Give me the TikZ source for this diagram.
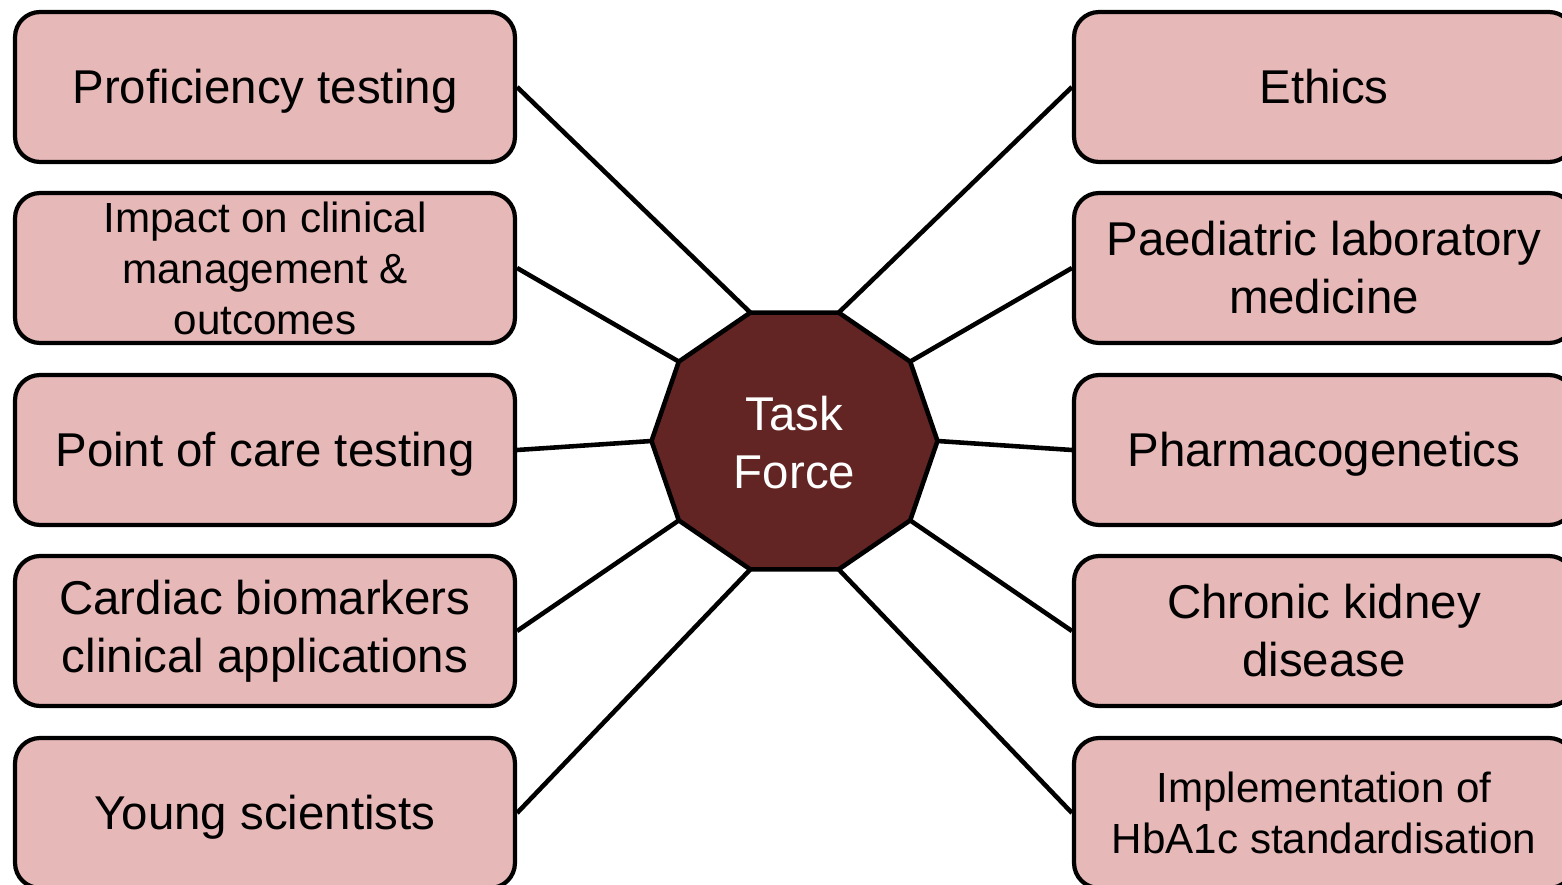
\documentclass[tikz,border=0pt]{standalone}
\usepackage{fontspec}
\setmainfont{Liberation Sans}
\definecolor{boxpink}{HTML}{E6B8B7}
\definecolor{tfred}{HTML}{632523}
\newcommand{\lowr}[1]{\raisebox{-0.08cm}[\height][\depth]{#1}}
\begin{document}
\begin{tikzpicture}[x=0.02cm,y=-0.02cm,
  topic/.style={draw=black, line width=2.4pt, fill=boxpink, rounded corners=0.5cm,
    minimum width=10cm, minimum height=3cm, inner sep=0pt, align=center,
    font=\fontsize{27}{33}\selectfont},
  smalltopic/.style={topic, font=\fontsize{24}{29}\selectfont},
  link/.style={draw=black, line width=2.6pt},
  hub/.style={fill=tfred, draw=black, line width=2.6pt, line join=miter}]
\useasboundingbox (0,0) rectangle (1562,885);
% decagon corners
\coordinate (v0)   at (937.5,441);
\coordinate (v36)  at (910.2,361.6);
\coordinate (v72)  at (838.7,312.6);
\coordinate (v108) at (750.3,312.6);
\coordinate (v144) at (678.8,361.6);
\coordinate (v180) at (651.5,441);
\coordinate (v216) at (678.8,520.4);
\coordinate (v252) at (750.3,569.4);
\coordinate (v288) at (838.7,569.4);
\coordinate (v324) at (910.2,520.4);
% boxes
\node[topic] (l1) at (265,87) {\lowr{Proficiency testing}};
\node[smalltopic] (l2) at (265,268) {Impact on clinical\\management \&\\outcomes};
\node[topic] (l3) at (265,450) {\lowr{Point of care testing}};
\node[topic] (l4) at (265,631) {Cardiac biomarkers\\clinical applications};
\node[topic] (l5) at (265,813) {\lowr{Young scientists}};
\node[topic] (r1) at (1324,87) {Ethics};
\node[topic] (r2) at (1324,268) {Paediatric laboratory\\medicine};
\node[topic] (r3) at (1324,450) {\lowr{Pharmacogenetics}};
\node[topic] (r4) at (1324,631) {Chronic kidney\\disease};
\node[smalltopic] (r5) at (1324,813) {Implementation of\\HbA1c standardisation};
% connectors
\draw[link] (l1.east) -- (v108);
\draw[link] (l2.east) -- (v144);
\draw[link] (l3.east) -- (v180);
\draw[link] (l4.east) -- (v216);
\draw[link] (l5.east) -- (v252);
\draw[link] (r1.west) -- (v72);
\draw[link] (r2.west) -- (v36);
\draw[link] (r3.west) -- (v0);
\draw[link] (r4.west) -- (v324);
\draw[link] (r5.west) -- (v288);
% hub
\draw[hub] (v0) -- (v36) -- (v72) -- (v108) -- (v144) -- (v180) -- (v216) -- (v252) -- (v288) -- (v324) -- cycle;
\node[text=white, align=center, font=\fontsize{27}{33}\selectfont] (tf) at (794.5,443) {Task\\Force};
\end{tikzpicture}
\end{document}
